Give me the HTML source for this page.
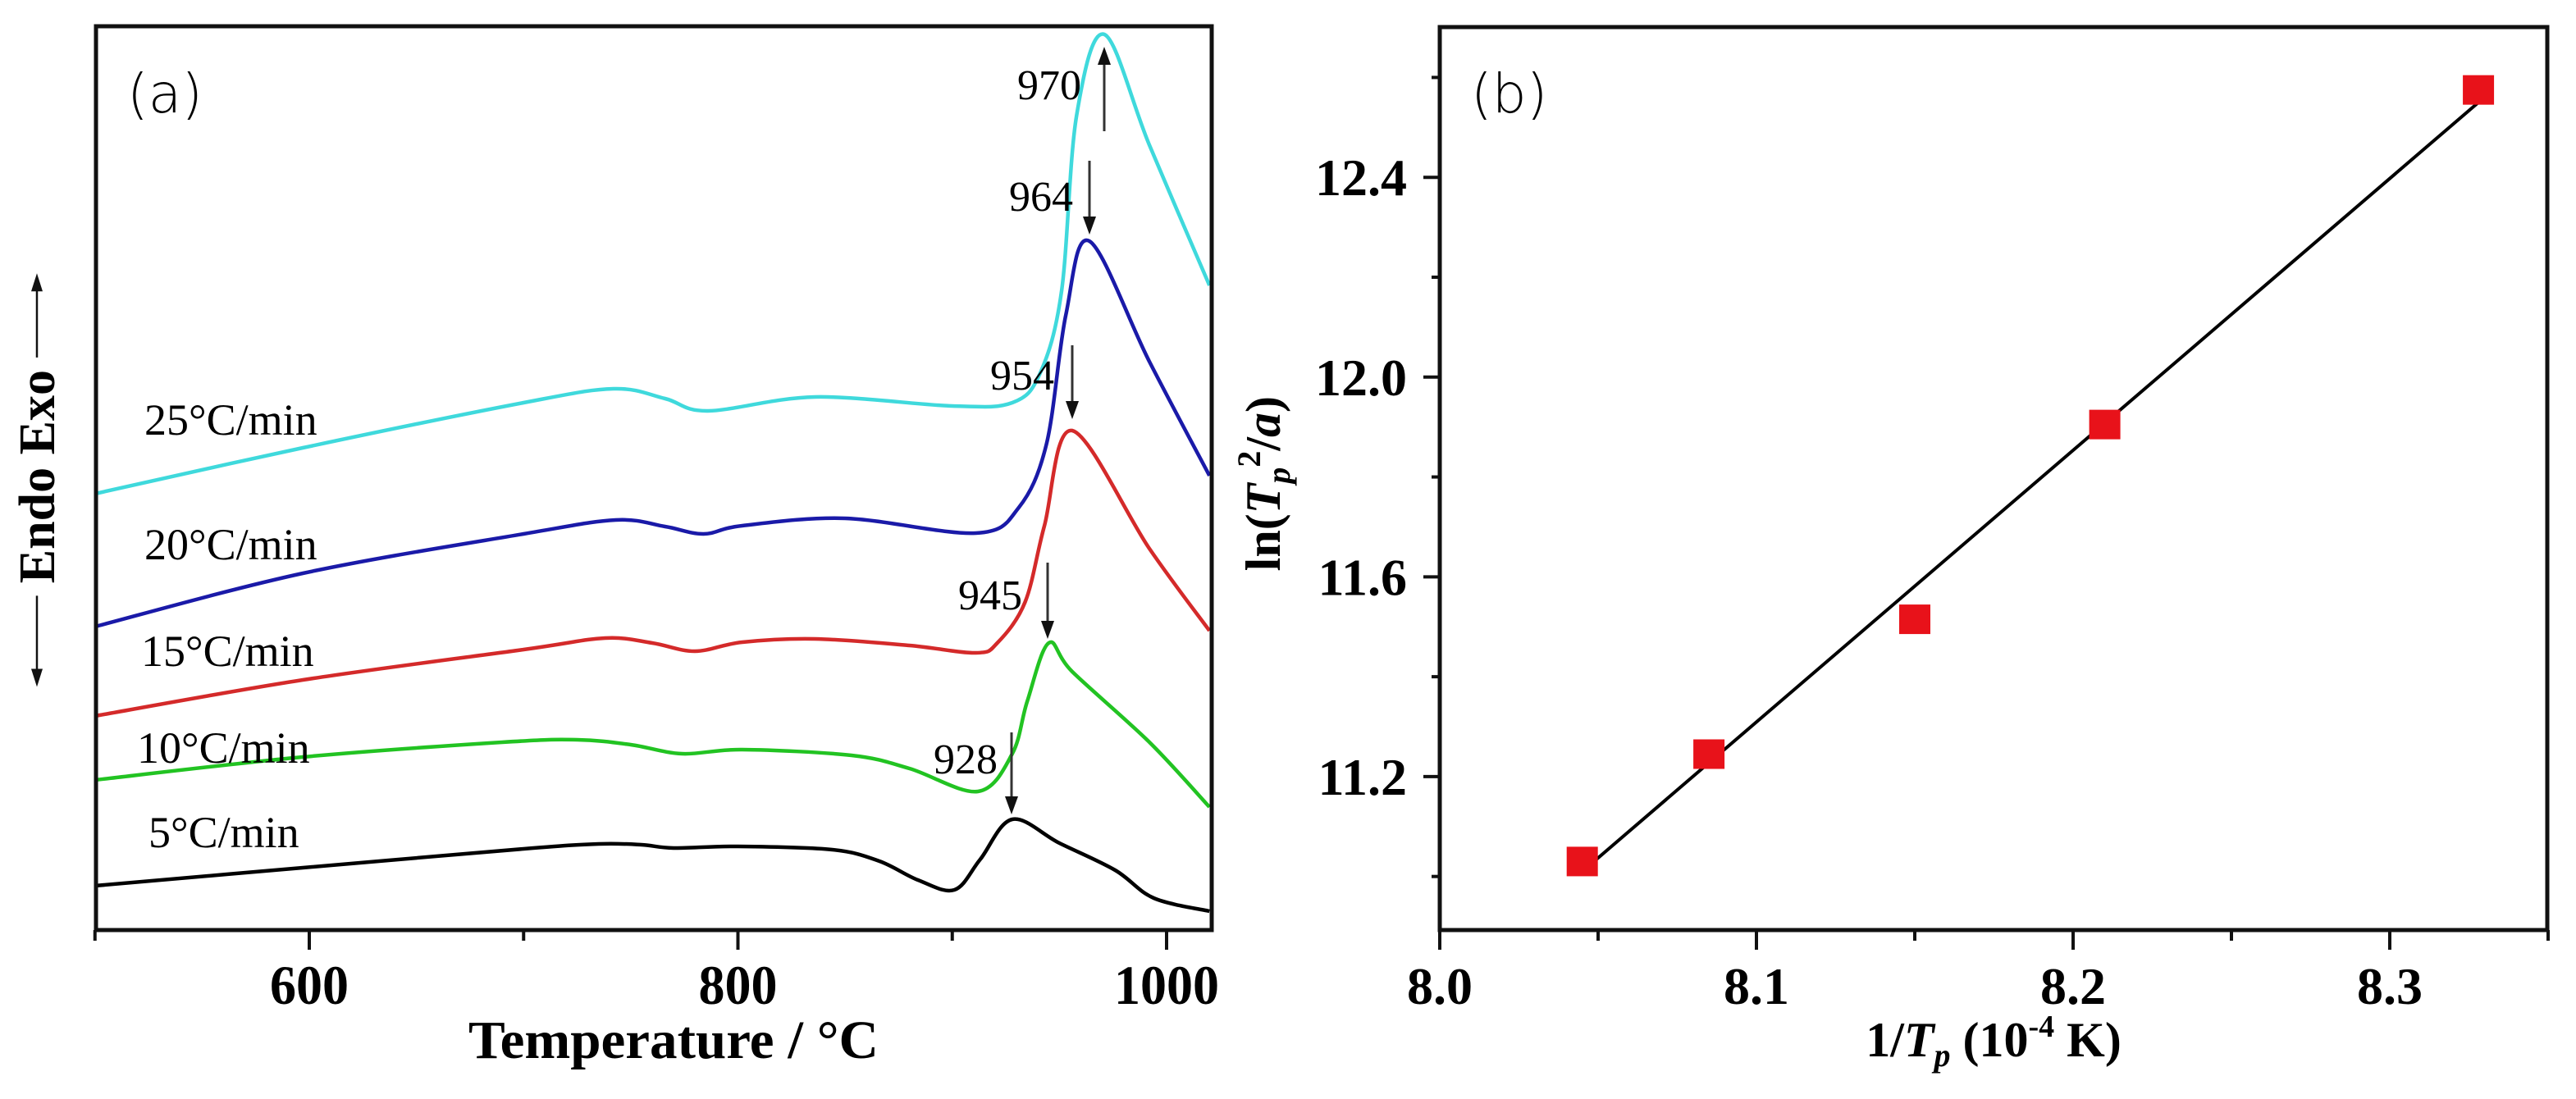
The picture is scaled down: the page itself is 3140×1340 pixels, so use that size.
<!DOCTYPE html>
<html><head><meta charset="utf-8"><style>
html,body{margin:0;padding:0;background:#fff;overflow:hidden;}
svg{display:block;}
.serif{font-family:"Liberation Serif",serif;}
</style></head><body>
<svg id="fig" width="3140" height="1340" viewBox="0 0 3140 1340" xmlns="http://www.w3.org/2000/svg">
<g id="pa"></g>
<g id="pb"></g>
</svg>
<script>
// ---- Panel (a) data ----
const tBlack=[500,597,700,735,755,770,800,844,866,884,901,913,928,950,976,994,1020];
const vBlack=[5.4,7.6,9.9,10.5,10.4,10.0,10.2,9.8,8.4,6.1,4.9,8.6,13.5,10.6,7.3,3.9,2.3];
const tGreen=[500,597,690,725,750,774,802,853,880,912,928,935,945,956,992,1020];
const vGreen=[18.3,21.1,22.9,23.2,22.6,21.5,22.0,21.3,19.7,16.9,21.5,27.9,35.0,31.5,22.9,15.0];
const tRed=[500,597,700,738,760,780,802,836,880,911,921,934,943,956,992,1020];
const vRed=[26.1,30.5,34.2,35.6,35.0,34.0,35.1,35.5,34.7,33.8,35.0,40.0,49.3,60.9,46.5,36.5];
const tBlue=[500,597,700,743,766,784,802,850,911,931,944,953,964,992,1020];
const vBlue=[37.0,43.5,48.3,50.0,49.2,48.3,49.3,50.2,48.4,51.5,59.3,75.0,84.0,69.3,55.4];
const tCyan=[500,597,700,742,766,786,836,900,928,941,951,958,971,992,1020];
const vCyan=[53.2,58.8,64.3,66.0,64.8,63.3,65.0,63.9,64.3,67.9,77.9,99.3,109.2,95.7,78.6];
const rateLabels=["5°C/min","10°C/min","15°C/min","20°C/min","25°C/min"];
const peakLabels=["928","945","954","964","970"];
const aTicks=[600,800,1000];
// ---- Panel (b) data ----
const bx=[8.045,8.085,8.15,8.21,8.328];
const by=[11.03,11.245,11.515,11.905,12.575];
const fitX=[8.045,8.328];
const fitY=[11.01,12.55];
const bxTicks=["8.0","8.1","8.2","8.3"];
const byTicks=["11.2","11.6","12.0","12.4"];

const S=0.8546;
const Y=y=>y*S;
const NS="http://www.w3.org/2000/svg";
function mk(parent,tag,attrs,text){const e=document.createElementNS(NS,tag);for(const k in attrs)e.setAttribute(k,attrs[k]);if(text!==undefined)e.textContent=text;parent.appendChild(e);return e;}
function smooth(pts){let d="M"+pts[0][0]+","+pts[0][1];for(let i=0;i<pts.length-1;i++){const p0=pts[Math.max(0,i-1)],p1=pts[i],p2=pts[i+1],p3=pts[Math.min(pts.length-1,i+2)];const c1=[p1[0]+(p2[0]-p0[0])/6,p1[1]+(p2[1]-p0[1])/6],c2=[p2[0]-(p3[0]-p1[0])/6,p2[1]-(p3[1]-p1[1])/6];d+=" C"+c1.join(",")+" "+c2.join(",")+" "+p2.join(",");}return d;}

// Panel a
const pa=document.getElementById('pa');
const aL=117,aR=1477,aT=32,aB=1134;
const ax=T=>377+(T-600)*2.6125;
const ay=v=>aB-v*10;
const series=[[tBlack,vBlack,"#000000"],[tGreen,vGreen,"#22c322"],[tRed,vRed,"#d42a2a"],[tBlue,vBlue,"#1a1aa8"],[tCyan,vCyan,"#3fd9dc"]];
const names=["curve-5","curve-10","curve-15","curve-20","curve-25"];
series.forEach((s,i)=>{const p=mk(pa,'path',{d:smooth(s[0].map((t,j)=>[ax(t),ay(s[1][j])])),fill:'none',stroke:s[2],'stroke-width':4.5});

});
const fr=mk(pa,'rect',{x:aL,y:aT,width:aR-aL,height:aB-aT,fill:'none',stroke:'#111','stroke-width':5});


for(let T=500;T<=1000;T+=100){mk(pa,'line',{x1:ax(T),x2:ax(T),y1:aB,y2:aB+(T%200===0?24:13),stroke:'#111','stroke-width':4});}
aTicks.forEach(T=>{const s=String(T);const t=mk(pa,'text',{x:ax(T),y:1224,'text-anchor':'middle','font-size':68,'font-weight':'bold',class:'serif',textLength:s.length*32,lengthAdjust:'spacingAndGlyphs'},s);

});
const labY=[1033,930,812,682,530],labX=[181,167,172,176,176];
rateLabels.forEach((s,i)=>{const t=mk(pa,'text',{x:labX[i],y:labY[i],'font-size':54,class:'serif'},s);

});
const pkX=[1138,1168,1207,1230,1240],pkY=[943,743,475,257,121],arX=[1233,1277,1307,1328,1346],arY1=[893,686,421,196,160],arY2=[993,779,511,286,57];
peakLabels.forEach((s,i)=>{const t=mk(pa,'text',{x:pkX[i],y:pkY[i],'font-size':52,class:'serif',textLength:78,lengthAdjust:'spacingAndGlyphs'},s);


const tip=arY2[i],dir=i===4?1:-1;
mk(pa,'line',{x1:arX[i],x2:arX[i],y1:arY1[i],y2:tip+dir*14,stroke:'#333','stroke-width':3});
mk(pa,'path',{d:`M${arX[i]},${tip} L${arX[i]-8},${tip+dir*22} L${arX[i]+8},${tip+dir*22}Z`,fill:'#111'});});
const atl=mk(pa,'text',{x:155,y:137,'font-size':66,'font-family':'"DejaVu Sans",sans-serif','font-weight':'300'},"(a)");


const xt=mk(pa,'text',{x:821,y:1290,'text-anchor':'middle','font-size':66,'font-weight':'bold',class:'serif',textLength:500,lengthAdjust:'spacingAndGlyphs'},"Temperature / °C");


const yt=mk(pa,'text',{x:0,y:0,'text-anchor':'middle','font-size':62,'font-weight':'bold',class:'serif',transform:`translate(66,${Y(680)}) rotate(-90)`},"Endo Exo");


mk(pa,'line',{x1:45,x2:45,y1:Y(410),y2:Y(510),stroke:'#111','stroke-width':2.5});
mk(pa,'line',{x1:45,x2:45,y1:Y(850),y2:Y(960),stroke:'#111','stroke-width':2.5});
mk(pa,'path',{d:`M45,${Y(390)} L38,${Y(390)+22} L52,${Y(390)+22}Z`,fill:'#111'});
mk(pa,'path',{d:`M45,${Y(980)} L38,${Y(980)-22} L52,${Y(980)-22}Z`,fill:'#111'});

// Panel b
const pb=document.getElementById('pb');
const bL=1755,bR=3105,bT=33,bB=1134;
const bX=v=>1755+(v-8.0)*3860;
const bY=v=>Y(1108-(v-11.2)*712.5);
const bfr=mk(pb,'rect',{x:bL,y:bT,width:bR-bL,height:bB-bT,fill:'none',stroke:'#111','stroke-width':5});


for(let k=0;k<=7;k++){const v=8.0+k*0.05;mk(pb,'line',{x1:bX(v),x2:bX(v),y1:bB,y2:bB+(k%2===0?24:13),stroke:'#111','stroke-width':4});}
for(let k=0;k<=8;k++){const v=11.0+k*0.2;mk(pb,'line',{x1:bL,x2:bL-(k%2===1?20:10),y1:bY(v),y2:bY(v),stroke:'#111','stroke-width':4});}
bxTicks.forEach(s=>{const t=mk(pb,'text',{x:bX(+s),y:1224,'text-anchor':'middle','font-size':64,'font-weight':'bold',class:'serif'},s);

});
byTicks.forEach(s=>{const t=mk(pb,'text',{x:1715,y:bY(+s)+22,'text-anchor':'end','font-size':64,'font-weight':'bold',class:'serif'},s);

});
const fit=mk(pb,'line',{x1:bX(fitX[0]),y1:bY(fitY[0]),x2:bX(fitX[1]),y2:bY(fitY[1]),stroke:'#000','stroke-width':4});


bx.forEach((v,i)=>{const r=mk(pb,'rect',{x:bX(v)-19,y:bY(by[i])-18,width:38,height:36,fill:'#e8121a'});

});
const btl=mk(pb,'text',{x:1793,y:137,'font-size':66,'font-family':'"DejaVu Sans",sans-serif','font-weight':'300'},"(b)");


const bxt=mk(pb,'text',{x:2430,y:1288,'text-anchor':'middle','font-size':60,'font-weight':'bold',class:'serif'});
bxt.innerHTML='1/<tspan font-style="italic">T</tspan><tspan font-style="italic" font-size="40" dy="12">p</tspan><tspan dy="-12"> (10</tspan><tspan font-size="38" dy="-24">-4</tspan><tspan dy="24"> K)</tspan>';


const byt=mk(pb,'text',{x:0,y:0,'text-anchor':'middle','font-size':60,'font-weight':'bold',class:'serif',transform:`translate(1560,${Y(690)}) rotate(-90)`});
byt.innerHTML='ln(<tspan font-style="italic">T</tspan><tspan font-style="italic" font-size="40" dy="12">p</tspan><tspan font-size="40" dy="-36">2</tspan><tspan dy="24">/</tspan><tspan font-style="italic">a</tspan>)';


</script>
</body></html>
